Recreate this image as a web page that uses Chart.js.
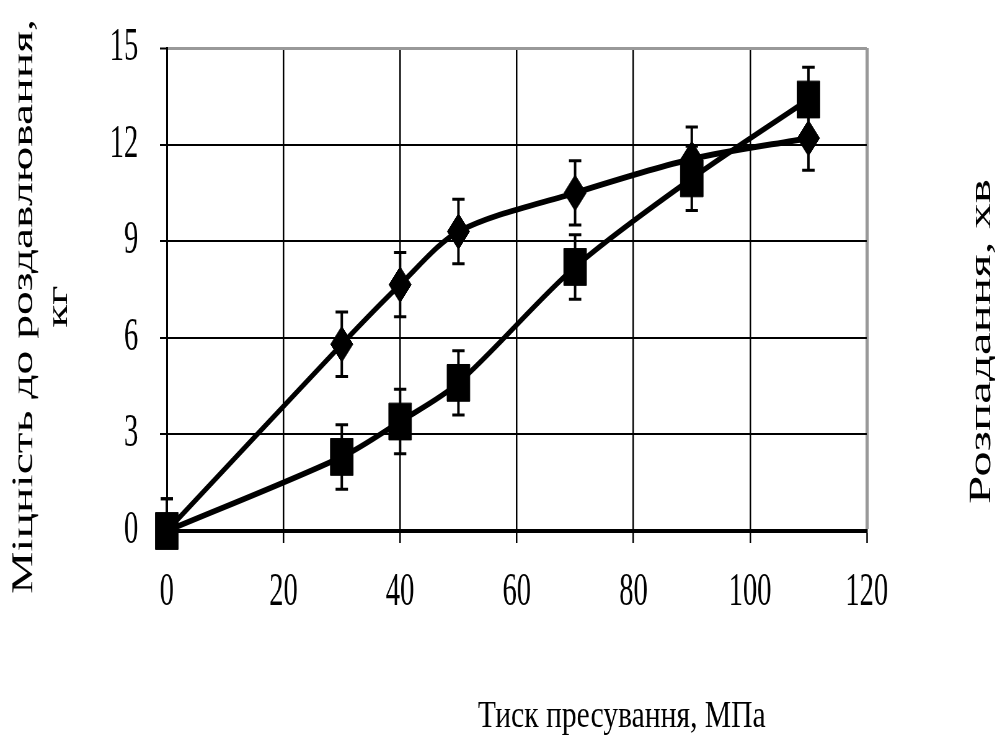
<!DOCTYPE html>
<html>
<head>
<meta charset="utf-8">
<script src="https://cdn.jsdelivr.net/npm/chart.js@4.4.0/dist/chart.umd.min.js"></script>
<style>
html, body { margin: 0; padding: 0; background: #fff; overflow: hidden; }
/* the source picture is squeezed sideways, so the whole chart is drawn wide and scaled down */
#wrap { width: 1605px; height: 742px; transform: scaleX(0.62); transform-origin: 0 0; }
</style>
</head>
<body>
<div id="wrap"><canvas id="pressChart"></canvas></div>
<script>
var pressure = [0, 30, 40, 50, 70, 90, 110];
var diamondValues = [0, 5.8, 7.65, 9.3, 10.5, 11.55, 12.2];
var squareValues = [0, 2.3, 3.4, 4.6, 8.2, 10.95, 13.4];
var diamondErr = [1, 1, 1, 1, 1, 1, 1];
var squareErr = [1, 1, 1, 1, 1, 1, 1];
var xTicks = [0, 20, 40, 60, 80, 100, 120];
var yTicks = [0, 3, 6, 9, 12, 15];
var yTitle = ['Міцність до роздавлювання,', 'кг'];
var xTitle = 'Тиск пресування, МПа';
var rightTitle = 'Розпадання, хв';

var FONT = '"Liberation Serif", "Times New Roman", serif';

function toPoints(values) {
  return pressure.map(function(p, i) { return {x: p, y: values[i]}; });
}

var errorSets = [diamondErr, squareErr];

var errorBars = {
  id: 'errorBars',
  afterDatasetsDraw: function(chart) {
    var ctx = chart.ctx, area = chart.chartArea, yScale = chart.scales.y;
    ctx.save();
    ctx.beginPath();
    ctx.rect(area.left - 40, area.top - 40, area.right - area.left + 80, area.bottom - area.top + 40);
    ctx.clip();
    ctx.strokeStyle = '#000';
    chart.data.datasets.forEach(function(ds, di) {
      var meta = chart.getDatasetMeta(di);
      errorSets[di].forEach(function(err, i) {
        var px = meta.data[i].x;
        var v = ds.data[i].y;
        var top = yScale.getPixelForValue(v + err);
        var bottom = yScale.getPixelForValue(v - err);
        ctx.lineWidth = 4;
        ctx.beginPath();
        ctx.moveTo(px, top); ctx.lineTo(px, bottom);
        ctx.stroke();
        ctx.lineWidth = 3;
        ctx.beginPath();
        ctx.moveTo(px - 10, top); ctx.lineTo(px + 10, top);
        ctx.moveTo(px - 10, bottom); ctx.lineTo(px + 10, bottom);
        ctx.stroke();
      });
    });
    ctx.restore();
  }
};

// text stretched along its own direction to a given length
function stretchedText(ctx, text, x, y, angle, length) {
  var w = ctx.measureText(text).width;
  ctx.save();
  ctx.translate(x, y);
  ctx.rotate(angle);
  ctx.scale(length / w, 1);
  ctx.fillText(text, 0, 0);
  ctx.restore();
}

var axisTitles = {
  id: 'axisTitles',
  afterDraw: function(chart) {
    var ctx = chart.ctx, a = chart.chartArea;
    var midY = (a.top + a.bottom) / 2;
    ctx.save();
    ctx.fillStyle = '#000';
    ctx.textAlign = 'center';
    ctx.textBaseline = 'alphabetic';

    ctx.font = '37px ' + FONT;
    stretchedText(ctx, xTitle, a.left + a.width * 0.65, chart.height - 15, 0, 464);

    ctx.font = '48px ' + FONT;
    stretchedText(ctx, yTitle[0], 52, midY + 17, -Math.PI / 2, 575);
    stretchedText(ctx, yTitle[1], 108, midY + 17, -Math.PI / 2, 42);

    ctx.font = '50px ' + FONT;
    stretchedText(ctx, rightTitle, chart.width - 8, midY + 52, -Math.PI / 2, 325);
    ctx.restore();
  }
};

var pressChart = new Chart(document.getElementById('pressChart'), {
  type: 'line',
  data: {
    datasets: [
      {
        data: toPoints(diamondValues),
        borderColor: '#000',
        backgroundColor: '#000',
        borderWidth: 6,
        tension: 0.3,
        pointStyle: 'rectRot',
        pointRadius: 18,
        pointBorderWidth: 1,
        clip: false
      },
      {
        data: toPoints(squareValues),
        borderColor: '#000',
        backgroundColor: '#000',
        borderWidth: 6,
        tension: 0.3,
        pointStyle: 'rect',
        pointRadius: 26,
        pointBorderWidth: 1,
        clip: false
      }
    ]
  },
  options: {
    responsive: true,
    maintainAspectRatio: false,
    animation: false,
    events: [],
    layout: { padding: { left: 0, right: 207, top: 48, bottom: 0 } },
    plugins: { legend: { display: false }, tooltip: { enabled: false } },
    scales: {
      x: {
        type: 'linear',
        min: 0,
        max: 120,
        afterBuildTicks: function(s) { s.ticks = xTicks.map(function(v) { return {value: v}; }); },
        afterFit: function(s) { s.height = 211; },
        ticks: { color: '#000', padding: 22, maxRotation: 0, font: { family: FONT, size: 46 } },
        grid: {
          color: function(c) { return c.tick && c.tick.value === 120 ? '#999' : '#000'; },
          lineWidth: function(c) { return c.tick && c.tick.value === 120 ? 5 : 2.5; },
          tickColor: '#000',
          tickWidth: 2.5,
          tickLength: 12
        },
        border: { color: '#000', width: 4 }
      },
      y: {
        min: 0,
        max: 15,
        afterBuildTicks: function(s) { s.ticks = yTicks.map(function(v) { return {value: v}; }); },
        afterFit: function(s) {
          s.width = 269;
          s.paddingTop = 0;
          s.paddingBottom = 0;
        },
        ticks: { color: '#000', padding: 35, font: { family: FONT, size: 46 } },
        grid: {
          color: function(c) { return c.tick && c.tick.value === 15 ? '#999' : '#000'; },
          lineWidth: function(c) {
            if (!c.tick) return 2;
            if (c.tick.value === 15) return 3;
            if (c.tick.value === 0) return 4;
            return 2;
          },
          tickColor: '#000',
          tickWidth: 2,
          tickLength: 11
        },
        border: { color: '#000', width: 3 }
      }
    }
  },
  plugins: [errorBars, axisTitles]
});
</script>
</body>
</html>
